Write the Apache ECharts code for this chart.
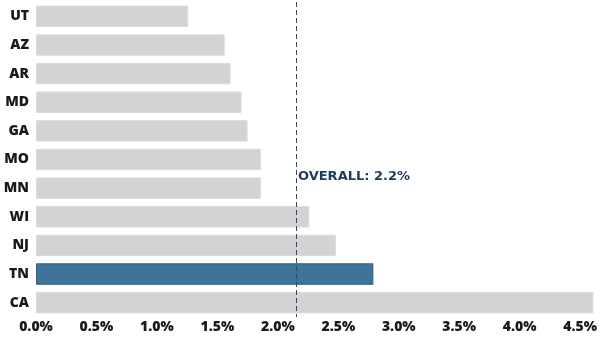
<!DOCTYPE html>
<html>
<head>
<meta charset="utf-8">
<script src="https://cdn.jsdelivr.net/npm/echarts@6/dist/echarts.min.js"></script>
<style>
html, body { margin: 0; padding: 0; background: #fff; }
#chart { width: 600px; height: 351px; }
</style>
</head>
<body>
<div id="chart"></div>
<script>
// states top to bottom
var states = ['UT', 'AZ', 'AR', 'MD', 'GA', 'MO', 'MN', 'WI', 'NJ', 'TN', 'CA'];
var rates = [1.26, 1.56, 1.61, 1.70, 1.75, 1.86, 1.86, 2.26, 2.48, 2.79, 4.61];
var highlight = 'TN';
var overall = 2.15;
var overallLabel = 'OVERALL: 2.2%';

var myChart = echarts.init(document.getElementById('chart'));

var barData = states.map(function (s, i) {
	if (s === highlight) {
		return { value: rates[i], itemStyle: { color: '#3e7498', borderColor: '#2f5f80', borderWidth: 1 } };
	}
	return rates[i];
});

option = {
	animation: false,
	textStyle: { fontFamily: 'Open Sans' },
	grid: { left: 36, width: 559, top: 2, bottom: 34 },
	xAxis: {
		type: 'value',
		min: 0,
		max: 4.62,
		interval: 0.5,
		axisLine: { show: false },
		axisTick: { show: false },
		splitLine: { show: false },
		axisLabel: {
			showMaxLabel: false,
			color: '#1a1a1a',
			fontWeight: 800,
			fontSize: 14,
			margin: 3,
			formatter: function (v) { return v.toFixed(1) + '%'; }
		}
	},
	yAxis: {
		type: 'category',
		data: states,
		inverse: true,
		axisLine: { show: false },
		axisTick: { show: false },
		axisLabel: { color: '#1a1a1a', fontWeight: 800, fontSize: 14, margin: 7 }
	},
	series: [{
		type: 'bar',
		data: barData,
		barCategoryGap: '25%',
		itemStyle: { color: '#d3d3d5', borderColor: '#dcdcde', borderWidth: 1 },
		markLine: {
			silent: true,
			symbol: 'none',
			label: { show: false },
			lineStyle: { color: '#2d4a6b', type: [5, 3], width: 1 },
			data: [{ xAxis: overall }]
		},
		markPoint: {
			symbol: 'circle',
			symbolSize: 0,
			data: [{ coord: [overall, 'MN'] }],
			label: {
				show: true,
				position: 'right',
				offset: [0, -12],
				distance: 2,
				formatter: overallLabel,
				color: '#1f3a5f',
				fontFamily: 'DejaVu Sans',
				fontWeight: 'bold',
				fontSize: 13
			}
		}
	}]
};

myChart.setOption(option);
</script>
</body>
</html>
